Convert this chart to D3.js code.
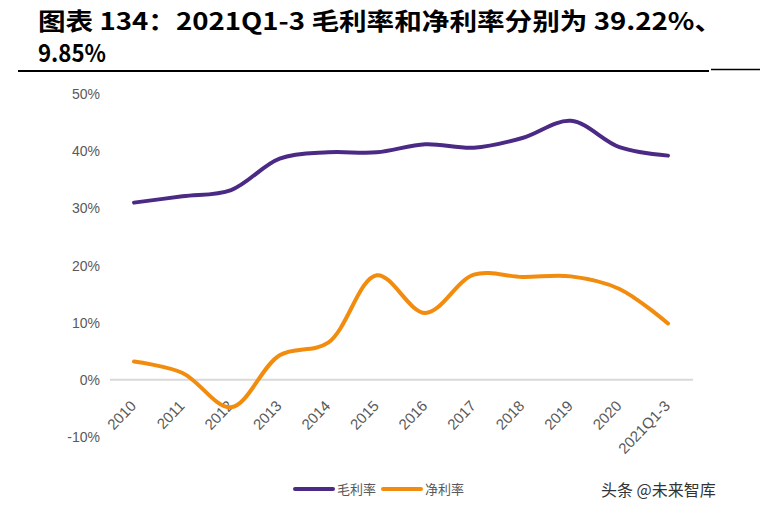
<!DOCTYPE html>
<html><head><meta charset="utf-8">
<script src="https://cdn.jsdelivr.net/npm/d3@7"></script>
<style>body{margin:0;background:#fff}svg{display:block}</style>
</head><body>
<script>
const categories = ["2010","2011","2012","2013","2014","2015","2016","2017","2018","2019","2020","2021Q1-3"];
const grossMargin = [31.0, 32.1, 33.2, 38.7, 39.8, 39.8, 41.2, 40.6, 42.3, 45.3, 40.7, 39.22];
const netMargin = [3.2, 1.2, -4.8, 4.3, 6.5, 18.3, 11.7, 18.4, 18.0, 18.1, 15.9, 9.85];
const yTicks = [-10, 0, 10, 20, 30, 40, 50];
const seriesNames = ["毛利率", "净利率"];
const colors = ["#4b2a85", "#f28c0f"];

const W = 760, H = 516;
const svg = d3.select("body").append("svg").attr("width", W).attr("height", H);

// Title
const tf = "'Noto Sans CJK SC', 'Noto Sans', sans-serif";
svg.append("text").attr("x", 38).attr("y", 30).attr("font-family", tf).attr("font-weight", 700)
  .attr("font-size", 24).attr("fill", "#000").attr("textLength", 684).attr("lengthAdjust", "spacingAndGlyphs")
  .text("图表 134：2021Q1-3 毛利率和净利率分别为 39.22%、");
svg.append("text").attr("x", 38).attr("y", 62).attr("font-family", tf).attr("font-weight", 700)
  .attr("font-size", 24).attr("fill", "#000").attr("textLength", 68).attr("lengthAdjust", "spacingAndGlyphs")
  .text("9.85%");
svg.append("line").attr("x1", 18).attr("x2", 709).attr("y1", 71).attr("y2", 71).attr("stroke", "#000").attr("stroke-width", 2);
svg.append("line").attr("x1", 711).attr("x2", 760).attr("y1", 69.5).attr("y2", 69.5).attr("stroke", "#000").attr("stroke-width", 1.5);

// Scales
const x = d3.scalePoint().domain(categories).range([134, 668]);
const y = d3.scaleLinear().domain([-10, 50]).range([437, 94]);

// Y labels
svg.append("g").selectAll("text").data(yTicks).join("text")
  .attr("x", 100).attr("y", d => y(d) + 5).attr("text-anchor", "end")
  .attr("font-family", "'Liberation Sans', Arial, sans-serif").attr("font-size", 14).attr("fill", "#595959")
  .text(d => d + "%");

// Zero line
svg.append("line").attr("x1", 110).attr("x2", 693).attr("y1", y(0)).attr("y2", y(0))
  .attr("stroke", "#d9d9d9").attr("stroke-width", 2);

// X labels
svg.append("g").selectAll("text").data(categories).join("text")
  .attr("transform", d => `translate(${x(d) + 3},${y(0) + 27}) rotate(-46)`)
  .attr("text-anchor", "end")
  .attr("font-family", "'Liberation Sans', Arial, sans-serif").attr("font-size", 15).attr("fill", "#595959")
  .text(d => d);

// Lines
const line = d3.line().x((d, i) => x(categories[i])).y(d => y(d)).curve(d3.curveCatmullRom.alpha(0.5));
[grossMargin, netMargin].forEach((s, k) => {
  svg.append("path").attr("d", line(s)).attr("fill", "none").attr("stroke", colors[k])
    .attr("stroke-width", 4).attr("stroke-linecap", "round").attr("stroke-linejoin", "round");
});

// Legend
const leg = [{x: 295, t: 337}, {x: 383, t: 425}];
leg.forEach((l, k) => {
  svg.append("line").attr("x1", l.x).attr("x2", l.x + 38).attr("y1", 489).attr("y2", 489)
    .attr("stroke", colors[k]).attr("stroke-width", 4).attr("stroke-linecap", "round");
  svg.append("text").attr("x", l.t).attr("y", 494).attr("font-family", tf).attr("font-size", 13)
    .attr("fill", "#595959").text(seriesNames[k]);
});

// Watermark
svg.append("text").attr("x", 601).attr("y", 496).attr("font-family", tf).attr("font-size", 16)
  .attr("fill", "#333").text("头条 @未来智库");
</script>
</body></html>
